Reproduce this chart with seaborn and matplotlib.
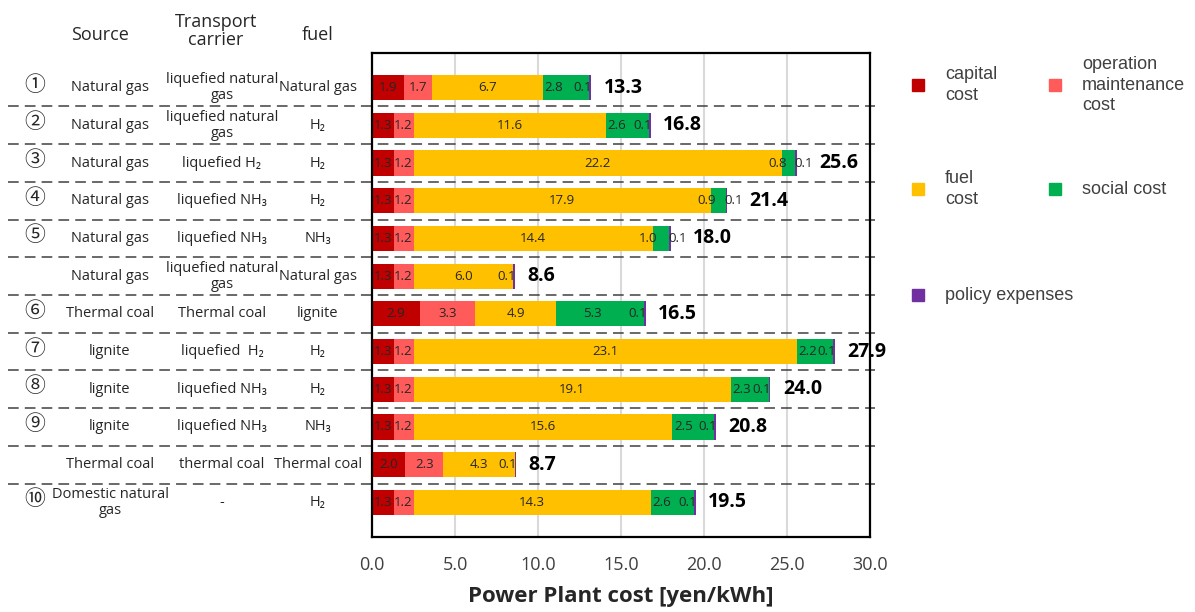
import seaborn as sns
import matplotlib.pyplot as plt
import matplotlib.transforms as mtransforms
from matplotlib.patches import Rectangle
import pandas as pd

sns.set_style("white")
plt.rcParams['font.family'] = ['Open Sans', 'Noto Sans', 'Noto Sans CJK JP', 'DejaVu Sans']

# table columns
nums = ["①", "②", "③", "④", "⑤", "", "⑥", "⑦", "⑧", "⑨", "", "⑩"]
sources = ["Natural gas", "Natural gas", "Natural gas", "Natural gas", "Natural gas", "Natural gas",
           "Thermal coal", "lignite", "lignite", "lignite", "Thermal coal", "Domestic natural\ngas"]
carriers = ["liquefied natural\ngas", "liquefied natural\ngas", "liquefied H₂", "liquefied NH₃", "liquefied NH₃",
            "liquefied natural\ngas", "Thermal coal", "liquefied  H₂", "liquefied NH₃", "liquefied NH₃",
            "thermal coal", "-"]
fuels = ["Natural gas", "H₂", "H₂", "H₂", "NH₃", "Natural gas", "lignite", "H₂", "H₂", "NH₃",
         "Thermal coal", "H₂"]

# cost components [yen/kWh]
capital = [1.9, 1.3, 1.3, 1.3, 1.3, 1.3, 2.9, 1.3, 1.3, 1.3, 2.0, 1.3]
om = [1.7, 1.2, 1.2, 1.2, 1.2, 1.2, 3.3, 1.2, 1.2, 1.2, 2.3, 1.2]
fuel_cost = [6.7, 11.6, 22.2, 17.9, 14.4, 6.0, 4.9, 23.1, 19.1, 15.6, 4.3, 14.3]
social = [2.8, 2.6, 0.8, 0.9, 1.0, 0.0, 5.3, 2.2, 2.3, 2.5, 0.0, 2.6]
policy = [0.1, 0.1, 0.1, 0.1, 0.1, 0.1, 0.1, 0.1, 0.1, 0.1, 0.1, 0.1]
totals = [13.3, 16.8, 25.6, 21.4, 18.0, 8.6, 16.5, 27.9, 24.0, 20.8, 8.7, 19.5]

cols = ["capital", "om", "fuel", "social", "policy"]
colors = {"capital": "#C00000", "om": "#FF5B5B", "fuel": "#FFC000", "social": "#00B050", "policy": "#7030A0"}
legend_labels = {"capital": "capital\ncost", "om": "operation\nmaintenance\ncost", "fuel": "fuel\ncost",
                 "social": "social cost", "policy": "policy expenses"}

rows = [f"r{i}" for i in range(len(capital))]
df = pd.DataFrame({"row": rows, "capital": capital, "om": om, "fuel": fuel_cost,
                   "social": social, "policy": policy})
cum = df[cols].cumsum(axis=1)
cum["row"] = rows

W, H = 1195, 612
fig = plt.figure(figsize=(W / 100, H / 100), dpi=100)
ax = fig.add_axes([372 / W, 1 - 537 / H, (870 - 372) / W, (537 - 53) / H])

# stacked bars: draw cumulative sums from the outermost layer inwards
for c in reversed(cols):
    sns.barplot(data=cum, x=c, y="row", order=rows, orient="h", color=colors[c],
                saturation=1, width=0.67, linewidth=0, ax=ax)

# segment labels
lab = dict(va="center", fontsize=9.5, color="#262626")
for i in range(len(rows)):
    start = 0.0
    small_social = 0 < df.loc[i, "social"] < 1.2
    for c in cols:
        v = df.loc[i, c]
        if v <= 0:
            continue
        if c == "policy":
            if small_social:
                ax.text(start + v - 0.15, i, f"{v:.1f}", ha="left", **lab)
            else:
                ax.text(start + v + 0.05, i, f"{v:.1f}", ha="right", **lab)
        elif c == "social" and v < 1.2:
            ax.text(start + 0.3, i, f"{v:.1f}", ha="right", **lab)
        elif c == "social" and v < 3.5:
            ax.text(start + 0.1, i, f"{v:.1f}", ha="left", **lab)
        elif c == "social":
            ax.text(start + (v - 0.9) / 2, i, f"{v:.1f}", ha="center", **lab)
        else:
            ax.text(start + v / 2, i, f"{v:.1f}", ha="center", **lab)
        start += v
    gap = 1.35 if small_social else 0.75
    ax.text(start + gap, i, f"{totals[i]:.1f}", ha="left", va="center", fontsize=14,
            fontweight="bold", color="black", clip_on=False)

ax.set_xlim(0, 30)
ax.set_xticks(range(0, 31, 5))
ax.set_xticklabels([f"{t:.1f}" for t in range(0, 31, 5)], fontsize=13, color="#404040")
ax.tick_params(axis="x", direction="in", length=5, width=1.5, color="#595959", pad=14)
ax.tick_params(axis="y", left=False, labelleft=False)
ax.set_ylabel("")
ax.set_xlabel("Power Plant cost [yen/kWh]", fontsize=16, fontweight="bold", labelpad=8)
ax.grid(axis="x", color="#d9d9d9", lw=1.5)
ax.grid(axis="y", visible=False)
ax.set_axisbelow(True)
for s in ax.spines.values():
    s.set_visible(True)
    s.set_color("black")
    s.set_linewidth(1.6)

# table on the left, rows aligned with the bars
trans = mtransforms.blended_transform_factory(fig.transFigure, ax.transData)
cell = dict(transform=trans, ha="center", va="center", fontsize=10.5, color="#262626",
            linespacing=1.1, clip_on=False)
for i in range(len(rows)):
    ax.text(35 / W, i - 0.08, nums[i], transform=trans, ha="center", va="center", fontsize=15,
            family=["Noto Sans CJK JP", "DejaVu Sans"], color="#262626", clip_on=False)
    ax.text(110 / W, i, sources[i], **cell)
    ax.text(222 / W, i, carriers[i], **cell)
    ax.text(318 / W, i, fuels[i], **cell)
for i in range(len(rows) - 1):
    ax.plot([8 / W, 875 / W], [i + 0.5, i + 0.5], transform=trans, color="#404040", lw=1.1,
            dashes=(7, 4), clip_on=False)

fig.text(100 / W, 1 - 35 / H, "Source", ha="center", va="center", fontsize=13, color="#262626")
fig.text(216 / W, 1 - 31 / H, "Transport\ncarrier", ha="center", va="center", fontsize=13,
         color="#262626", linespacing=1.0)
fig.text(318 / W, 1 - 35 / H, "fuel", ha="center", va="center", fontsize=13, color="#262626")

# legend
legend_pos = {"capital": (918, 85), "om": (1055, 85), "fuel": (918, 189), "social": (1055, 189),
              "policy": (918, 295)}
for c in cols:
    px, py = legend_pos[c]
    fig.add_artist(Rectangle(((px - 6) / W, 1 - (py + 6) / H), 12 / W, 12 / H,
                             transform=fig.transFigure, color=colors[c]))
    fig.text((px + 27) / W, 1 - py / H, legend_labels[c], ha="left", va="center", fontsize=13,
             family=["Liberation Sans", "DejaVu Sans"], color="#404040", linespacing=1.25)

fig.savefig("out.png", dpi=100)
